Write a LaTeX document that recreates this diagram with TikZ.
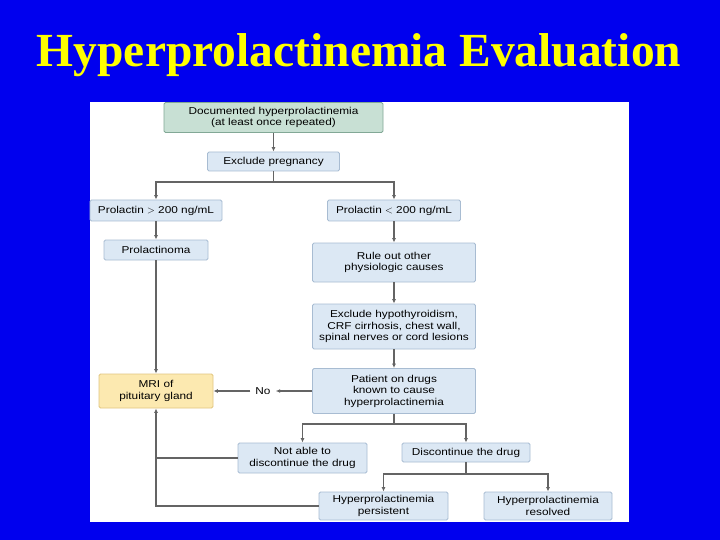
\documentclass[tikz,border=0pt]{standalone}
\usepackage{fontspec}
\newfontfamily\titlefont{Liberation Serif}
\newfontfamily\nodefont[FakeStretch=1.18]{Liberation Sans}
\usetikzlibrary{arrows.meta}
\definecolor{slideblue}{RGB}{0,0,238}
\definecolor{titleyellow}{RGB}{255,255,0}
\definecolor{boxfill}{RGB}{220,232,244}
\definecolor{boxline}{RGB}{168,188,210}
\definecolor{greenfill}{RGB}{200,224,212}
\definecolor{greenline}{RGB}{130,168,150}
\definecolor{mrifill}{RGB}{252,233,176}
\definecolor{mriline}{RGB}{226,198,128}
\definecolor{linegray}{RGB}{100,100,100}
\begin{document}
\begin{tikzpicture}[x=1pt,y=-1pt,
  box/.style={draw=boxline, fill=boxfill, rounded corners=1.5pt, line width=0.9pt,
    inner sep=0pt, align=center, text=black,
    font=\nodefont\fontsize{10}{11.5}\selectfont},
  conn/.style={draw=linegray, line width=1.1pt},
  arr/.style={conn, -{Latex[length=4.5pt,width=4pt]}}]
\useasboundingbox (0,0) rectangle (720,540);
\fill[slideblue] (0,0) rectangle (720,540);
\fill[white] (90,102) rectangle (629,522);
\node[font=\titlefont\bfseries\fontsize{47.5}{50}\selectfont, text=titleyellow, anchor=base] (title) at (359,67) {Hyperprolactinemia Evaluation};

\node[box, fill=greenfill, draw=greenline, minimum width=219pt, minimum height=30pt] (top) at (273.5,117.5) {Documented hyperprolactinemia\\(at least once repeated)};
\node[box, minimum width=132pt, minimum height=19pt] (preg) at (273.5,161.5) {Exclude pregnancy};
\node[box, minimum width=132pt, minimum height=21pt] (pgt) at (156,210.5) {Prolactin $>$ 200 ng/mL};
\node[box, minimum width=133pt, minimum height=21pt] (plt) at (394,210.5) {Prolactin $<$ 200 ng/mL};
\node[box, minimum width=104pt, minimum height=20pt] (proma) at (156,250) {Prolactinoma};
\node[box, minimum width=163pt, minimum height=39pt] (rule) at (394,262.5) {Rule out other\\physiologic causes};
\node[box, minimum width=163pt, minimum height=45pt] (excl) at (394,326.5) {Exclude hypothyroidism,\\CRF cirrhosis, chest wall,\\spinal nerves or cord lesions};
\node[box, minimum width=163pt, minimum height=45pt] (drugs) at (394,391) {Patient on drugs\\known to cause\\hyperprolactinemia};
\node[box, fill=mrifill, draw=mriline, minimum width=114pt, minimum height=34pt] (mri) at (156,391) {MRI of\\pituitary gland};
\node[font=\nodefont\fontsize{10}{11.5}\selectfont, text=black, inner xsep=5pt, inner ysep=2pt] (no) at (263,391) {No};
\node[box, minimum width=129pt, minimum height=30pt] (notable) at (302.5,458) {Not able to\\discontinue the drug};
\node[box, minimum width=128pt, minimum height=19pt] (disc) at (466,452.5) {Discontinue the drug};
\node[box, minimum width=129pt, minimum height=28pt] (pers) at (383.5,506) {Hyperprolactinemia\\persistent};
\node[box, minimum width=128pt, minimum height=28pt] (res) at (548,506) {Hyperprolactinemia\\resolved};

\coordinate (j1) at (273.5,182);
\coordinate (j2) at (394,424);
\coordinate (j3) at (466,474);

\draw[arr] (top) -- (preg);
\draw[conn] (preg.south) -- (j1);
\draw[arr] (j1) -| (pgt.north);
\draw[arr] (j1) -| (plt.north);
\draw[arr] (pgt) -- (proma);
\draw[arr] (proma) -- (mri);
\draw[arr] (plt) -- (rule);
\draw[arr] (rule) -- (excl);
\draw[arr] (excl) -- (drugs);
\draw[arr] (drugs.west) -- (no.east);
\draw[arr] (no.west) -- (mri.east);
\draw[conn] (drugs.south) -- (j2);
\draw[arr] (j2) -| (notable.north);
\draw[arr] (j2) -| (disc.north);
\draw[conn] (disc.south) -- (j3);
\draw[arr] (j3) -| (pers.north);
\draw[arr] (j3) -| (res.north);
\draw[arr] (pers.west) -| (mri.south);
\draw[conn] (notable.west) -- (notable.west -| mri.south);
\end{tikzpicture}
\end{document}
